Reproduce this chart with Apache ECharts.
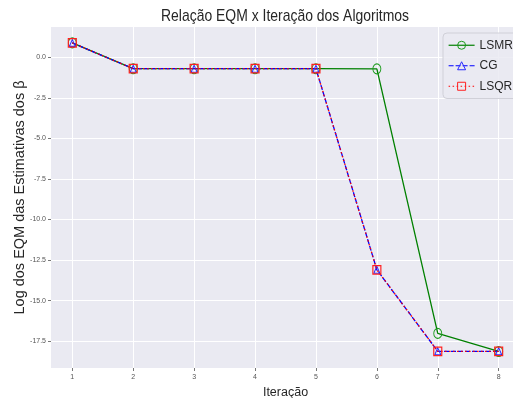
<!DOCTYPE html>
<html><head><meta charset="utf-8">
<script src="https://cdn.jsdelivr.net/npm/echarts@6/dist/echarts.min.js"></script>
<style>html,body{margin:0;padding:0;background:#fff}#c{width:513px;height:398px}</style>
</head><body><div id="c"></div>
<script>
const iterations = [1, 2, 3, 4, 5, 6, 7, 8];
const lsmr = [0.88, -0.71, -0.71, -0.71, -0.71, -0.72, -17.02, -18.13];
const cg   = [0.88, -0.71, -0.71, -0.71, -0.71, -13.1, -18.12, -18.12];
const lsqr = [0.88, -0.71, -0.71, -0.71, -0.71, -13.1, -18.12, -18.12];
const xTicks = [1, 2, 3, 4, 5, 6, 7, 8];
const yTicks = [-17.5, -15.0, -12.5, -10.0, -7.5, -5.0, -2.5, 0.0];
const titleText = 'Relação EQM x Iteração dos Algoritmos';

const font = 'Liberation Sans, Arial, sans-serif';
const chart = echarts.init(document.getElementById('c'));
const pair = arr => iterations.map((x, i) => [x, arr[i]]);
chart.setOption({
  backgroundColor: '#fff',
  animation: false,
  graphic: [{
    type: 'text', x: 285, y: 16, scaleX: 0.82, z: 10,
    style: { text: titleText, fill: '#262626', font: '17px Liberation Sans, Arial, sans-serif',
      textAlign: 'center', textVerticalAlign: 'middle' }
  }],
  legend: {
    left: 443, top: 33, orient: 'vertical',
    itemWidth: 26, itemHeight: 10, itemGap: 6,
    padding: [5, 8, 5, 5],
    backgroundColor: 'rgba(234,234,242,0.85)',
    borderColor: '#d0d0d8', borderWidth: 1, borderRadius: 4,
    itemStyle: { borderWidth: 1 },
    lineStyle: { width: 1.2 },
    textStyle: { fontFamily: font, fontSize: 12, color: '#262626', lineHeight: 14.5 },
    data: ['LSMR', 'CG', 'LSQR']
  },
  grid: { left: 51, right: -7, top: 27, bottom: 30, show: true, backgroundColor: '#EAEAF2', borderWidth: 0,
    outerBoundsMode: 'none', containLabel: false },
  xAxis: {
    type: 'value', min: 0.65, max: 8.35,
    name: 'Iteração', nameLocation: 'middle', nameGap: 18, nameMoveOverlap: false,
    nameTextStyle: { fontFamily: font, fontSize: 12.5, color: '#262626' },
    axisLine: { show: false, onZero: false },
    axisTick: { show: true, customValues: xTicks, length: 3, lineStyle: { color: '#777' } },
    axisLabel: { customValues: xTicks, fontFamily: font, fontSize: 7, color: '#555', margin: 6 },
    splitLine: { show: true, lineStyle: { color: '#fff', width: 1 } }
  },
  yAxis: {
    type: 'value', min: -19.15, max: 1.86,
    name: 'Log dos EQM das Estimativas dos β', nameLocation: 'middle', nameGap: 24, nameMoveOverlap: false,
    nameTextStyle: { fontFamily: font, fontSize: 14.5, color: '#262626' },
    axisLine: { show: false, onZero: false },
    axisTick: { show: true, customValues: yTicks, length: 3, lineStyle: { color: '#777' } },
    axisLabel: { customValues: yTicks, fontFamily: font, fontSize: 7, color: '#555', margin: 5,
      formatter: v => (v < 0 ? '-' : '') + Math.abs(v).toFixed(1) },
    splitLine: { show: true, lineStyle: { color: '#fff', width: 1 } }
  },
  series: [
    { name: 'LSMR', type: 'line', data: pair(lsmr), symbol: 'circle', symbolSize: [8, 10],
      lineStyle: { color: '#008000', width: 1.3 },
      itemStyle: { color: 'rgba(0,0,0,0)', borderColor: '#1a9a1a', borderWidth: 1 }, z: 2 },
    { name: 'CG', type: 'line', data: pair(cg), symbol: 'triangle', symbolSize: [6, 7],
      lineStyle: { color: '#0000ff', width: 1.3, type: [5, 2] },
      itemStyle: { color: 'rgba(0,0,0,0)', borderColor: '#2a2aff', borderWidth: 1 }, z: 3 },
    { name: 'LSQR', type: 'line', data: pair(lsqr), symbol: 'rect', symbolSize: [8, 8.5],
      lineStyle: { color: '#ff0000', width: 1.3, type: [1.5, 2.5] },
      itemStyle: { color: 'rgba(0,0,0,0)', borderColor: '#ff2020', borderWidth: 1.2 }, z: 4 }
  ]
});
</script></body></html>
